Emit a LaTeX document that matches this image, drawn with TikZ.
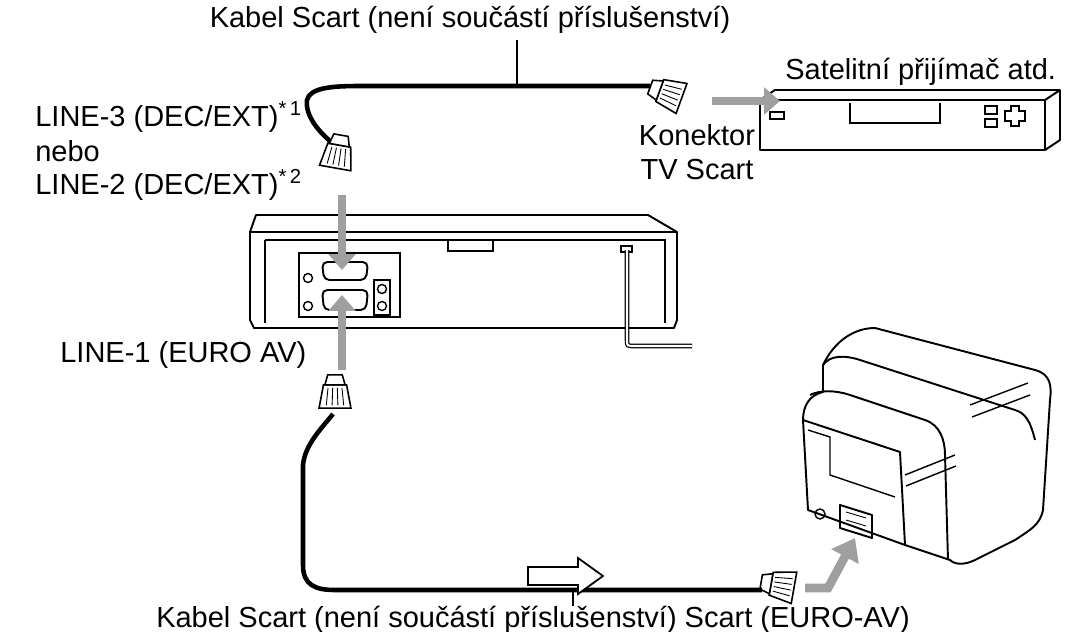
\documentclass[tikz,border=0pt]{standalone}
\usepackage{fontspec}
\setmainfont{Liberation Sans}
\usetikzlibrary{arrows.meta}
\tikzset{
  lbl/.style={font=\fontsize{16.5}{19}\selectfont, inner sep=0pt},
  part/.style={draw=black, line width=1.1pt, line join=round},
  plug/.style={draw=black, fill=white, line width=0.9pt},
  grayarrow/.style={draw=gray!75, line width=5pt, -{Triangle[length=9pt,width=15pt]}},
  cable/.style={draw=black, line width=2.6pt},
}
\newcommand{\scartplug}[3]{% position, angle, name
  \begin{scope}[shift={#1}, rotate=#2, scale=1.45]
    \draw[plug] (-11,-7) -- (11,-7) -- (8,9) -- (-8,9) -- cycle;
    \draw[plug] (-7,9) -- (7,9) -- (5,16) -- (-5,16) -- cycle;
    \foreach \i in {-6,-2,2,6} \draw[line width=0.5pt] (\i,-5) -- (\i*0.8,7);
    \coordinate (#3) at (0,16);
  \end{scope}}
\begin{document}
\begin{tikzpicture}[x=0.02cm, y=-0.02cm]
  \useasboundingbox (0,0) rectangle (1076,632);
  % popisky
  \node[lbl] (topcable) at (470,20) {Kabel Scart (není součástí příslušenství)};
  \node[lbl, anchor=west] (sat) at (785,72) {Satelitní přijímač atd.};
  \node[lbl, anchor=west] (line3) at (35,117) {LINE-3 (DEC/EXT)\textsuperscript{*\,1}};
  \node[lbl, anchor=west] (nebo) at (35,151) {nebo};
  \node[lbl, anchor=west] (line2) at (35,185) {LINE-2 (DEC/EXT)\textsuperscript{*\,2}};
  \node[lbl] (konektor) at (697,135) {Konektor};
  \node[lbl] (tvscart) at (697,170) {TV Scart};
  \node[lbl, anchor=west] (line1) at (60,355) {LINE-1 (EURO AV)};
  \node[lbl] (botcable) at (533,620) {Kabel Scart (není součástí příslušenství) Scart (EURO-AV)};

  % horni kabel
  \draw[cable] (335,145) .. controls (318,132) and (305,115) .. (307,100)
    .. controls (310,88) and (330,86) .. (360,86) -- (650,86);
  \draw[line width=1pt] (517,40) -- (517,86);
  \scartplug{(337,158)}{170}{pA}
  \scartplug{(672,95)}{-110}{pB}

  % satelitni prijimac
  \draw[part, fill=white] (760,100) -- (775,90) -- (1060,90) -- (1060,140) -- (1045,150) -- (760,150) -- cycle;
  \draw[part] (760,100) -- (1045,100) -- (1060,90);
  \draw[part] (1045,100) -- (1045,150);
  \draw[line width=0.8pt] (770,112) rectangle (784,119);
  \draw[line width=0.8pt] (850,103) -- (850,123) -- (940,123) -- (940,103);
  \draw[line width=0.8pt] (985,106) rectangle (997,114) (985,119) rectangle (997,127);
  \draw[line width=0.8pt] (1005,111) -- (1011,111) -- (1011,106) -- (1019,106) -- (1019,111) -- (1025,111)
    -- (1025,121) -- (1019,121) -- (1019,126) -- (1011,126) -- (1011,121) -- (1005,121) -- cycle;
  \draw[grayarrow] (712,101) -- (780,101);

  % videorekorder
  \draw[part, fill=white] (256,215) -- (648,215) -- (677,232) -- (677,320) -- (674,328) -- (254,328) -- (250,320)
    -- (250,232) -- cycle;
  \draw[part] (250,232) -- (677,232);
  \draw[line width=0.8pt] (265,240) -- (665,240) -- (665,323) (265,240) -- (265,323);
  \draw[line width=0.8pt] (448,240) -- (448,251) -- (493,251) -- (493,240);
  \draw[line width=0.6pt] (299,253) rectangle (400,317);
  \draw[part, rounded corners=3pt] (322,262) -- (368,262) -- (366,280) -- (324,280) -- cycle
    (322,290) -- (368,290) -- (366,310) -- (324,310) -- cycle;
  \foreach \y in {278,306} \draw[line width=0.8pt] (308,\y) circle (4.5);
  \foreach \y in {289,306} \draw[line width=0.8pt] (382,\y) circle (4.5);
  \draw[line width=0.6pt] (374,280) rectangle (390,315);
  \draw[line width=0.8pt] (621,246) rectangle (632,252);
  \draw[line width=2.6pt] (627,250) -- (627,340) .. controls (627,346) .. (635,346) -- (692,346);
  \draw[line width=1.2pt, white] (627,250) -- (627,340) .. controls (627,346) .. (635,346) -- (692,346);
  \draw[grayarrow] (342,195) -- (342,270);
  \draw[grayarrow] (342,370) -- (342,295);

  % dolni kabel
  \scartplug{(335,398)}{180}{pC}
  \scartplug{(784,586)}{-100}{pD}
  \draw[cable] (333,414) .. controls (320,430) and (305,445) .. (303,465) -- (303,565)
    .. controls (303,585) and (315,590) .. (335,590) -- (762,590);
  \draw[line width=1pt] (573,590) -- (573,606);
  \draw[line width=1pt, fill=white] (528,567) -- (578,567) -- (578,558) -- (603,576) -- (578,594) -- (578,585)
    -- (528,585) -- cycle;
  \draw[grayarrow, -{Triangle[length=12pt,width=17pt]}] (805,588) -- (828,588) -- (855,538);

  % televizor
  \draw[part, fill=white] (823,365) .. controls (835,340) and (855,328) .. (875,328) -- (1035,370)
    .. controls (1050,374) and (1052,385) .. (1050,400) -- (1043,510) .. controls (1040,525) and (1030,530) .. (1015,540)
    -- (975,560) .. controls (965,565) and (955,565) .. (950,560) -- (905,545) -- (808,510) -- (803,420)
    .. controls (803,405) and (810,395) .. (823,392) -- cycle;
  \draw[part] (823,365) .. controls (830,355) and (845,355) .. (860,360) -- (1015,410) .. controls (1025,413) and (1030,420) .. (1035,440);
  \draw[part] (810,395) .. controls (820,390) and (835,390) .. (850,395) -- (925,420) .. controls (940,425) and (945,440) .. (945,455)
    -- (948,560);
  \draw[part] (803,420) -- (900,452) -- (905,545);
  \draw[line width=0.8pt] (808,430) -- (830,437) -- (830,475) -- (895,497);
  \draw[line width=0.8pt] (1028,383) -- (970,405) (1030,395) -- (972,417);
  \draw[line width=0.8pt] (955,455) -- (905,475) (956,466) -- (906,486);
  \draw[line width=0.8pt] (820,514) circle (5);
  \draw[part] (840,505) -- (872,515) -- (872,538) -- (840,528) -- cycle;
  \draw[line width=0.5pt] (846,512) -- (866,518) (846,520) -- (866,526);
\end{tikzpicture}
\end{document}
